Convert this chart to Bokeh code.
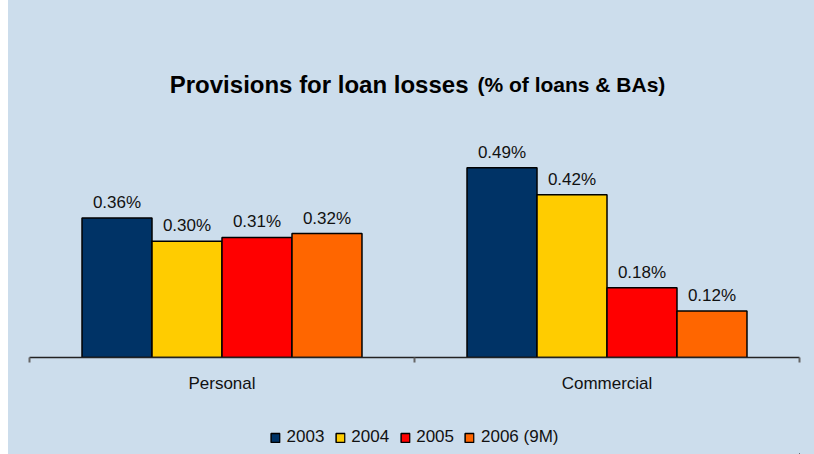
from bokeh.plotting import figure
from bokeh.layouts import row, column
from bokeh.models import (ColumnDataSource, Range1d, FixedTicker, Legend, LegendItem,
                          Label, CustomJSTickFormatter, Spacer)
from bokeh.transform import dodge
from bokeh.core.properties import value
from bokeh.embed import file_html
from bokeh.resources import INLINE

# Provisions for loan losses, % of loans & BAs
categories = ["Personal", "Commercial"]
series_names = ["2003", "2004", "2005", "2006 (9M)"]
v2003 = [0.36, 0.49]
v2004 = [0.30, 0.42]
v2005 = [0.31, 0.18]
v2006 = [0.32, 0.12]
series_values = [v2003, v2004, v2005, v2006]
colors = ["#003366", "#FFCC00", "#FF0000", "#FF6600"]

FONT = "Liberation Sans"
BG = "#CCDDEC"
TEXT = "#111111"

n_cat = len(categories)
n_ser = len(series_names)
bar_w = 0.1818

p = figure(frame_width=770, frame_height=317, output_backend="svg",
           toolbar_location=None,
           x_range=Range1d(0, n_cat), y_range=Range1d(0, 0.8183),
           y_axis_location=None,
           min_border_left=21, min_border_right=15, min_border_top=40,
           min_border_bottom=63)
p.background_fill_color = BG
p.border_fill_color = BG
p.styles = {"background-color": BG}
p.outline_line_color = None
p.xgrid.visible = False
p.ygrid.visible = False

# category axis: labels at category centres, tick marks at the boundaries
centres = [i + 0.5 for i in range(n_cat)]
ax = p.xaxis[0]
ax.ticker = FixedTicker(ticks=centres, minor_ticks=list(range(n_cat + 1)))
ax.formatter = CustomJSTickFormatter(args=dict(cats=categories),
                                     code="return cats[Math.floor(tick)] || '';")
ax.major_tick_line_color = None
ax.minor_tick_in = 0
ax.minor_tick_out = 5
ax.minor_tick_line_color = "#666666"
ax.minor_tick_line_width = 2
ax.axis_line_color = "#222222"
ax.axis_line_width = 1.5
ax.major_label_standoff = 10
ax.major_label_text_font = FONT
ax.major_label_text_font_size = "17px"
ax.major_label_text_color = TEXT

# legend strip under the chart; its key glyphs share the bar sources but the
# strip's ranges lie away from the data so only the legend shows
lp = figure(width=806, height=34, output_backend="svg", toolbar_location=None,
            x_range=Range1d(-2 * n_cat, -n_cat), y_range=Range1d(10, 11),
            x_axis_location=None, y_axis_location=None, min_border=0)
lp.background_fill_color = BG
lp.border_fill_color = BG
lp.styles = {"background-color": BG}
lp.outline_line_color = None
lp.xgrid.visible = False
lp.ygrid.visible = False

items = []
for j, (name, vals, col) in enumerate(zip(series_names, series_values, colors)):
    src = ColumnDataSource(dict(x=centres, top=vals,
                                label=[f"{v:.2f}%" for v in vals]))
    off = (j - (n_ser - 1) / 2) * bar_w
    bar_style = dict(x=dodge("x", off, range=p.x_range), top="top", width=bar_w,
                     source=src, fill_color=col, line_color="black", line_width=1.5)
    p.vbar(**bar_style)
    p.text(x=dodge("x", off, range=p.x_range), y="top", text="label", source=src,
           text_align="center", text_baseline="alphabetic", y_offset=-15.5,
           text_font=value(FONT), text_font_size="17px", text_color=TEXT)
    key = lp.vbar(**bar_style)
    items.append(LegendItem(label=name, renderers=[key]))

legend = Legend(items=items, orientation="horizontal", location="center",
                glyph_width=11, glyph_height=11, label_standoff=6, spacing=10,
                label_height=20,
                background_fill_alpha=0, border_line_color=None,
                label_text_font=FONT, label_text_font_size="17px",
                label_text_color=TEXT, margin=0, padding=0)
lp.add_layout(legend)

p.add_layout(Label(x=1.1403, y=0.704, text="Provisions for loan losses",
                   text_align="right", text_baseline="alphabetic",
                   text_font=FONT, text_font_style="bold",
                   text_font_size="24px", text_color="black"))
p.add_layout(Label(x=1.1636, y=0.704, text="(% of loans & BAs)",
                   text_align="left", text_baseline="alphabetic",
                   text_font=FONT, text_font_style="bold",
                   text_font_size="21px", text_color="black"))

layout = row(Spacer(width=8, height=454), column(p, lp))
open("out.html", "w").write(file_html(layout, INLINE))
